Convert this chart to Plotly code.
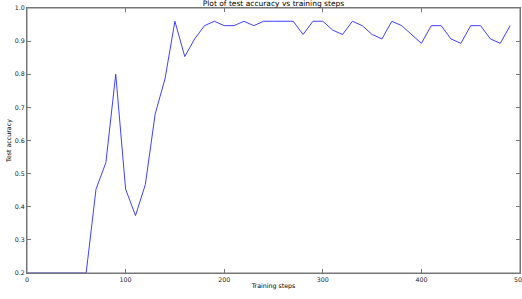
import plotly.graph_objects as go

steps = list(range(0, 500, 10))
accuracy = [
    0.2, 0.2, 0.2, 0.2, 0.2, 0.2, 0.2, 0.4533, 0.5333, 0.8,
    0.4533, 0.3733, 0.4667, 0.68, 0.7867, 0.96, 0.8533, 0.9067, 0.9467, 0.96,
    0.9467, 0.9467, 0.96, 0.9467, 0.96, 0.96, 0.96, 0.96, 0.92, 0.96,
    0.96, 0.9333, 0.92, 0.96, 0.9467, 0.92, 0.9067, 0.96, 0.9467, 0.92,
    0.8933, 0.9467, 0.9467, 0.9067, 0.8933, 0.9467, 0.9467, 0.9067, 0.8933, 0.9467,
]
x_ticks = [0, 100, 200, 300, 400, 500]
y_ticks = [0.2, 0.3, 0.4, 0.5, 0.6, 0.7, 0.8, 0.9, 1.0]

FONT = "DejaVu Sans"

fig = go.Figure(go.Scatter(x=steps, y=accuracy, mode="lines",
                           line=dict(color="#2a2aff", width=0.9)))

axis_common = dict(
    showgrid=False, zeroline=False, showline=True, linecolor="#777777",
    linewidth=1, mirror="ticks", ticks="inside", ticklen=4, tickwidth=1,
    tickcolor="#777777", tickfont=dict(family=FONT, size=6.3, color="#222222"),
    automargin=False, ticklabeloverflow="allow",
)

fig.update_layout(
    width=522, height=299,
    margin=dict(l=27, r=2, t=8, b=26),
    paper_bgcolor="white", plot_bgcolor="white",
    showlegend=False,
    title=dict(text="Plot of test accuracy vs training steps",
               font=dict(family=FONT, size=7.5, color="#000000"),
               x=0.5, xanchor="center", xref="paper",
               y=1 - 3.5 / 299, yref="container", yanchor="middle"),
    xaxis=dict(range=[0, 500], tickvals=x_ticks, ticktext=[str(v) for v in x_ticks],
               title=dict(text="Training steps", font=dict(family=FONT, size=6.3, color="#000000"),
                          standoff=2),
               **axis_common),
    yaxis=dict(range=[0.2, 1.0], tickvals=y_ticks, ticktext=[f"{v:.1f}" for v in y_ticks],
               title=dict(text="Test accuracy", font=dict(family=FONT, size=6.3, color="#000000"),
                          standoff=2),
               **axis_common),
    shapes=[dict(type="rect", xref="paper", yref="paper", x0=0, x1=1, y0=0, y1=1,
                 line=dict(color="#777777", width=1), layer="above")],
)

fig.write_html("out.html", config={"displayModeBar": False},
               post_script="document.body.style.margin='0';")
